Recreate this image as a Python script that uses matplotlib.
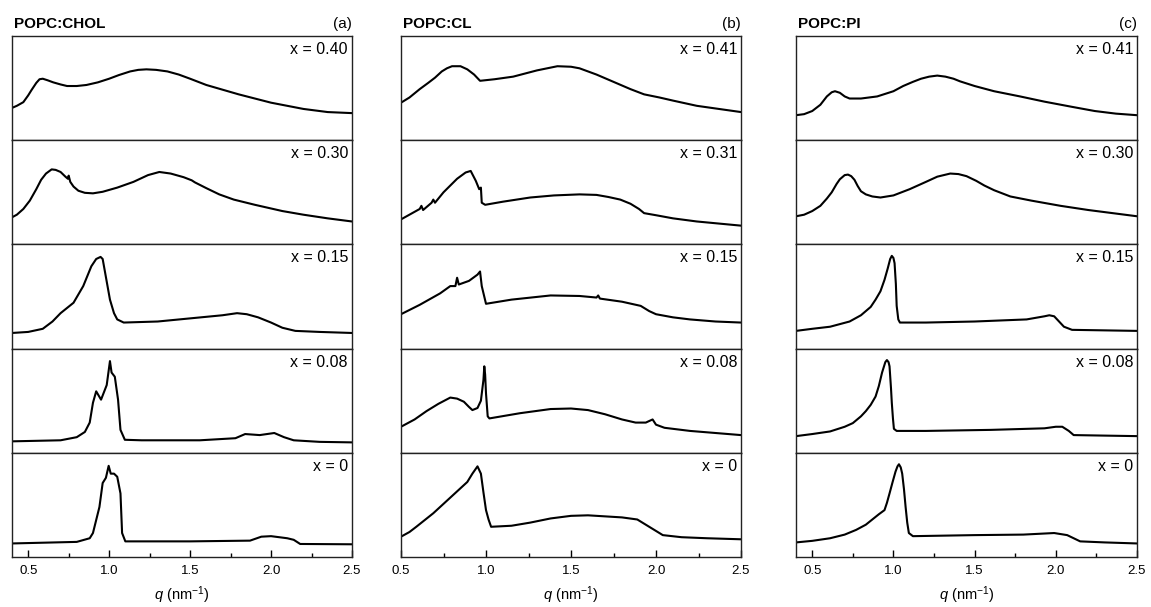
import numpy as np
import matplotlib
matplotlib.use("Agg")
import matplotlib.pyplot as plt
from matplotlib.ticker import MultipleLocator

plt.rcParams['font.family'] = ['Liberation Sans', 'DejaVu Sans']
plt.rcParams['mathtext.fontset'] = 'custom'
plt.rcParams['mathtext.rm'] = 'Liberation Sans'
plt.rcParams['mathtext.it'] = 'Liberation Sans:italic'

# ---- data (q in nm^-1, intensity in arbitrary units, each row scaled 0..1) ----
# POPC:CHOL
q_a40 = [0.40, 0.43, 0.47, 0.50, 0.52, 0.55, 0.57, 0.59, 0.62, 0.655, 0.70, 0.74, 0.80, 0.86, 0.93, 1.00, 1.06, 1.13, 1.18, 1.23, 1.29, 1.36, 1.43, 1.50, 1.60, 1.70, 1.80, 1.90, 2.00, 2.10, 2.20, 2.35, 2.50]
i_a40 = [0.31, 0.33, 0.365, 0.43, 0.48, 0.55, 0.585, 0.59, 0.575, 0.555, 0.535, 0.52, 0.52, 0.53, 0.555, 0.59, 0.625, 0.66, 0.675, 0.68, 0.675, 0.66, 0.63, 0.59, 0.53, 0.485, 0.44, 0.40, 0.36, 0.33, 0.30, 0.27, 0.26]
q_a30 = [0.40, 0.43, 0.47, 0.51, 0.55, 0.58, 0.61, 0.645, 0.67, 0.70, 0.73, 0.745, 0.75, 0.76, 0.78, 0.81, 0.85, 0.90, 0.96, 1.05, 1.15, 1.24, 1.31, 1.38, 1.46, 1.51, 1.53, 1.60, 1.68, 1.77, 1.90, 2.07, 2.20, 2.35, 2.50]
i_a30 = [0.26, 0.285, 0.34, 0.42, 0.53, 0.62, 0.68, 0.72, 0.715, 0.695, 0.65, 0.63, 0.66, 0.60, 0.555, 0.515, 0.495, 0.49, 0.505, 0.545, 0.60, 0.665, 0.695, 0.68, 0.645, 0.615, 0.595, 0.54, 0.48, 0.43, 0.38, 0.32, 0.285, 0.25, 0.22]
q_a15 = [0.40, 0.50, 0.59, 0.65, 0.70, 0.74, 0.78, 0.84, 0.89, 0.92, 0.947, 0.96, 0.975, 1.005, 1.03, 1.05, 1.09, 1.30, 1.50, 1.70, 1.79, 1.85, 1.92, 2.00, 2.07, 2.15, 2.30, 2.50]
i_a15 = [0.15, 0.16, 0.19, 0.26, 0.34, 0.39, 0.44, 0.60, 0.79, 0.86, 0.88, 0.86, 0.73, 0.47, 0.34, 0.28, 0.25, 0.26, 0.29, 0.32, 0.34, 0.33, 0.30, 0.25, 0.20, 0.17, 0.16, 0.15]
q_a08 = [0.40, 0.70, 0.80, 0.85, 0.88, 0.90, 0.92, 0.95, 0.985, 1.005, 1.015, 1.035, 1.055, 1.07, 1.097, 1.20, 1.56, 1.78, 1.84, 1.93, 2.02, 2.08, 2.14, 2.30, 2.50]
i_a08 = [0.11, 0.12, 0.15, 0.20, 0.29, 0.48, 0.59, 0.51, 0.65, 0.88, 0.77, 0.73, 0.51, 0.22, 0.125, 0.12, 0.12, 0.14, 0.18, 0.17, 0.19, 0.15, 0.12, 0.105, 0.10]
q_a0 = [0.40, 0.80, 0.88, 0.90, 0.94, 0.96, 0.98, 0.997, 1.01, 1.03, 1.05, 1.07, 1.08, 1.10, 1.50, 1.87, 1.94, 2.00, 2.10, 2.14, 2.18, 2.50]
i_a0 = [0.13, 0.145, 0.18, 0.23, 0.48, 0.71, 0.76, 0.875, 0.80, 0.80, 0.77, 0.61, 0.23, 0.15, 0.15, 0.157, 0.195, 0.20, 0.18, 0.165, 0.125, 0.122]

# POPC:CL
q_b41 = [0.50, 0.55, 0.61, 0.66, 0.70, 0.74, 0.77, 0.80, 0.85, 0.89, 0.93, 0.965, 1.05, 1.16, 1.30, 1.42, 1.50, 1.55, 1.65, 1.75, 1.85, 1.93, 2.02, 2.10, 2.24, 2.37, 2.50]
i_b41 = [0.36, 0.41, 0.49, 0.55, 0.60, 0.66, 0.69, 0.71, 0.71, 0.68, 0.63, 0.57, 0.585, 0.61, 0.67, 0.71, 0.705, 0.69, 0.63, 0.56, 0.49, 0.44, 0.41, 0.38, 0.33, 0.30, 0.27]
q_b31 = [0.50, 0.61, 0.62, 0.63, 0.68, 0.69, 0.70, 0.75, 0.83, 0.88, 0.91, 0.94, 0.96, 0.97, 0.975, 0.995, 1.10, 1.26, 1.40, 1.55, 1.65, 1.72, 1.79, 1.85, 1.90, 1.93, 2.00, 2.10, 2.24, 2.37, 2.50]
i_b31 = [0.24, 0.34, 0.37, 0.33, 0.40, 0.43, 0.40, 0.50, 0.63, 0.69, 0.705, 0.61, 0.53, 0.545, 0.40, 0.38, 0.41, 0.45, 0.47, 0.48, 0.475, 0.455, 0.43, 0.39, 0.34, 0.30, 0.28, 0.25, 0.22, 0.20, 0.18]
q_b15 = [0.50, 0.61, 0.73, 0.79, 0.82, 0.83, 0.84, 0.90, 0.95, 0.965, 0.975, 1.00, 1.15, 1.38, 1.55, 1.65, 1.66, 1.67, 1.80, 1.91, 1.96, 2.00, 2.10, 2.20, 2.35, 2.50]
i_b15 = [0.33, 0.42, 0.53, 0.60, 0.60, 0.68, 0.615, 0.65, 0.71, 0.74, 0.60, 0.43, 0.47, 0.51, 0.505, 0.49, 0.51, 0.48, 0.45, 0.41, 0.36, 0.33, 0.30, 0.28, 0.26, 0.25]
q_b08 = [0.50, 0.58, 0.65, 0.72, 0.79, 0.83, 0.87, 0.90, 0.92, 0.95, 0.97, 0.985, 0.99, 0.995, 1.00, 1.01, 1.02, 1.20, 1.38, 1.50, 1.60, 1.70, 1.80, 1.88, 1.94, 1.98, 2.00, 2.05, 2.20, 2.35, 2.50]
i_b08 = [0.25, 0.32, 0.40, 0.47, 0.53, 0.52, 0.49, 0.44, 0.41, 0.43, 0.50, 0.70, 0.83, 0.75, 0.57, 0.35, 0.33, 0.38, 0.42, 0.425, 0.41, 0.37, 0.32, 0.29, 0.29, 0.32, 0.27, 0.24, 0.21, 0.19, 0.17]
q_b0 = [0.50, 0.55, 0.59, 0.64, 0.69, 0.75, 0.81, 0.85, 0.89, 0.92, 0.95, 0.97, 0.985, 1.00, 1.015, 1.03, 1.15, 1.26, 1.38, 1.50, 1.60, 1.70, 1.80, 1.89, 1.96, 2.04, 2.15, 2.30, 2.50]
i_b0 = [0.195, 0.24, 0.29, 0.355, 0.42, 0.51, 0.60, 0.66, 0.72, 0.80, 0.87, 0.80, 0.62, 0.45, 0.36, 0.29, 0.30, 0.33, 0.37, 0.395, 0.40, 0.39, 0.38, 0.36, 0.29, 0.21, 0.19, 0.18, 0.17]

# POPC:PI
q_c41 = [0.40, 0.45, 0.50, 0.55, 0.59, 0.62, 0.64, 0.67, 0.70, 0.73, 0.80, 0.90, 1.00, 1.06, 1.12, 1.17, 1.22, 1.27, 1.32, 1.37, 1.41, 1.50, 1.62, 1.78, 1.93, 2.10, 2.24, 2.37, 2.50]
i_c41 = [0.24, 0.25, 0.28, 0.34, 0.42, 0.46, 0.47, 0.455, 0.42, 0.40, 0.40, 0.42, 0.47, 0.52, 0.56, 0.59, 0.61, 0.62, 0.61, 0.59, 0.565, 0.52, 0.47, 0.42, 0.37, 0.32, 0.28, 0.255, 0.24]
q_c30 = [0.40, 0.45, 0.50, 0.55, 0.59, 0.62, 0.65, 0.67, 0.70, 0.72, 0.74, 0.76, 0.78, 0.80, 0.83, 0.87, 0.92, 1.00, 1.10, 1.20, 1.27, 1.35, 1.40, 1.45, 1.51, 1.56, 1.62, 1.72, 1.85, 2.03, 2.20, 2.35, 2.50]
i_c30 = [0.27, 0.285, 0.32, 0.37, 0.44, 0.50, 0.58, 0.625, 0.665, 0.67, 0.655, 0.62, 0.56, 0.51, 0.48, 0.46, 0.45, 0.47, 0.53, 0.60, 0.65, 0.68, 0.675, 0.655, 0.61, 0.565, 0.52, 0.46, 0.42, 0.37, 0.33, 0.30, 0.27]
q_c15 = [0.40, 0.50, 0.61, 0.73, 0.80, 0.86, 0.89, 0.92, 0.945, 0.965, 0.98, 0.99, 1.000, 1.007, 1.015, 1.02, 1.03, 1.04, 1.20, 1.50, 1.82, 1.93, 1.96, 1.99, 2.02, 2.05, 2.10, 2.30, 2.50]
i_c15 = [0.17, 0.19, 0.21, 0.26, 0.32, 0.40, 0.47, 0.55, 0.66, 0.77, 0.86, 0.89, 0.87, 0.82, 0.62, 0.41, 0.28, 0.25, 0.25, 0.26, 0.28, 0.31, 0.32, 0.31, 0.26, 0.21, 0.18, 0.175, 0.17]
q_c08 = [0.40, 0.50, 0.61, 0.70, 0.75, 0.80, 0.83, 0.86, 0.89, 0.91, 0.93, 0.95, 0.96, 0.97, 0.976, 0.985, 0.99, 0.997, 1.003, 1.02, 1.20, 1.60, 1.93, 2.00, 2.04, 2.08, 2.11, 2.30, 2.50]
i_c08 = [0.16, 0.18, 0.205, 0.25, 0.285, 0.35, 0.40, 0.46, 0.54, 0.64, 0.77, 0.87, 0.89, 0.87, 0.83, 0.62, 0.48, 0.33, 0.23, 0.21, 0.21, 0.22, 0.235, 0.25, 0.25, 0.21, 0.17, 0.165, 0.16]
q_c0 = [0.40, 0.50, 0.61, 0.70, 0.77, 0.83, 0.87, 0.91, 0.945, 0.96, 0.976, 0.995, 1.013, 1.025, 1.034, 1.045, 1.054, 1.065, 1.075, 1.085, 1.095, 1.12, 1.50, 1.80, 1.99, 2.07, 2.11, 2.15, 2.30, 2.50]
i_c0 = [0.14, 0.155, 0.18, 0.215, 0.26, 0.31, 0.36, 0.41, 0.45, 0.52, 0.61, 0.72, 0.82, 0.87, 0.89, 0.86, 0.80, 0.65, 0.48, 0.33, 0.23, 0.20, 0.21, 0.215, 0.23, 0.21, 0.18, 0.15, 0.14, 0.13]

titles = ["POPC:CHOL", "POPC:CL", "POPC:PI"]
tags = ["(a)", "(b)", "(c)"]
labels_a = ["x = 0.40", "x = 0.30", "x = 0.15", "x = 0.08", "x = 0"]
labels_b = ["x = 0.41", "x = 0.31", "x = 0.15", "x = 0.08", "x = 0"]
labels_c = ["x = 0.41", "x = 0.30", "x = 0.15", "x = 0.08", "x = 0"]

panels = [
    (titles[0], tags[0], labels_a, [(q_a40, i_a40), (q_a30, i_a30), (q_a15, i_a15), (q_a08, i_a08), (q_a0, i_a0)], (0.4, 2.5)),
    (titles[1], tags[1], labels_b, [(q_b41, i_b41), (q_b31, i_b31), (q_b15, i_b15), (q_b08, i_b08), (q_b0, i_b0)], (0.5, 2.5)),
    (titles[2], tags[2], labels_c, [(q_c41, i_c41), (q_c30, i_c30), (q_c15, i_c15), (q_c08, i_c08), (q_c0, i_c0)], (0.4, 2.5)),
]

# ---- layout (pixels) ----
W, H = 1151, 607
lefts = [12, 401, 796]
widths = [340, 340, 341]
top = 36
row_h = 104.2

fig = plt.figure(figsize=(W / 100, H / 100), dpi=100)

for p, (title, tag, labels, curves, xlim) in enumerate(panels):
    for r, (q, inten) in enumerate(curves):
        bottom = H - top - (r + 1) * row_h
        ax = fig.add_axes([lefts[p] / W, bottom / H, widths[p] / W, row_h / H])
        ax.plot(q, inten, color='black', lw=1.5, solid_joinstyle='round')
        ax.set_xlim(*xlim)
        ax.set_ylim(0, 1)
        ax.set_yticks([])
        for s in ax.spines.values():
            s.set_linewidth(1.0)
            s.set_color('#222222')
        ax.text(1 - 4 / widths[p], 1 - 18 / row_h, labels[r], transform=ax.transAxes,
                ha='right', va='baseline', fontsize=11.5)
        if r == 4:
            ax.xaxis.set_major_locator(MultipleLocator(0.5))
            ax.xaxis.set_minor_locator(MultipleLocator(0.25))
            ax.tick_params(axis='x', which='major', direction='in', length=5, width=1.0,
                           labelsize=9.5, pad=6)
            ax.tick_params(axis='x', which='minor', direction='in', length=3, width=1.0)
            ax.set_xlabel(r'$q$ (nm$^{-1}$)', fontsize=10.5, labelpad=5)
        else:
            ax.set_xticks([])

    # panel title and tag above the top row
    fig.text(lefts[p] / W + 2 / W, (H - 28) / H, title, fontsize=11, fontweight='bold',
             ha='left', va='baseline')
    fig.text((lefts[p] + widths[p]) / W, (H - 28) / H, tag, fontsize=11,
             ha='right', va='baseline')

fig.savefig("out.png", dpi=100)
